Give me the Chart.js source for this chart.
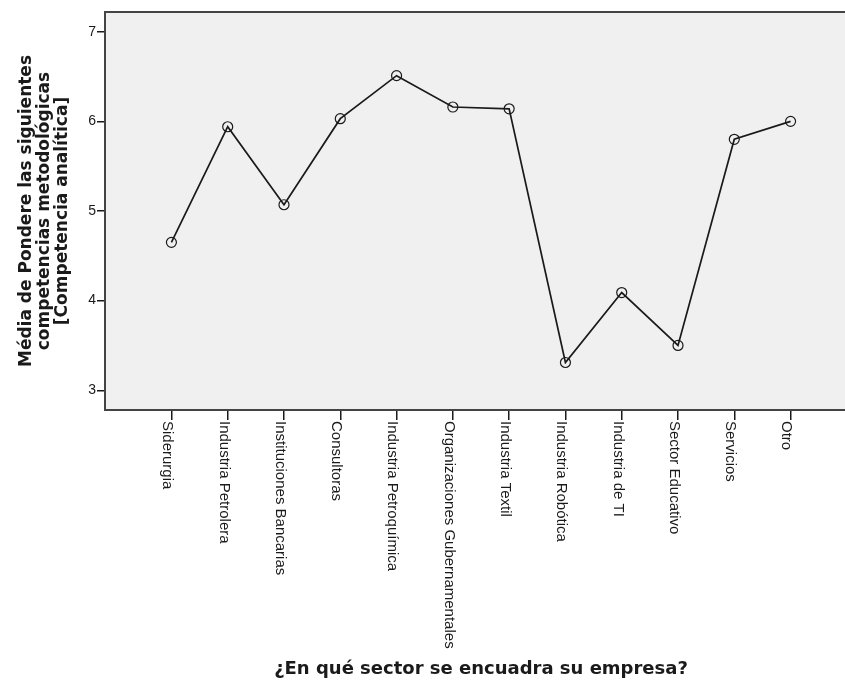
<!DOCTYPE html>
<html>
<head>
<meta charset="utf-8">
<script src="https://cdn.jsdelivr.net/npm/chart.js@4.4.1/dist/chart.umd.min.js"></script>
<style>
  html, body { margin: 0; padding: 0; background: #fff; overflow: hidden; }
  #wrap { width: 870px; height: 684px; }
</style>
</head>
<body>
<div id="wrap"><canvas id="chart"></canvas></div>
<script>
// datos
const sectores = [
    'Siderurgia',
    'Industria Petrolera',
    'Instituciones Bancarias',
    'Consultoras',
    'Industria Petroquímica',
    'Organizaciones Gubernamentales',
    'Industria Textil',
    'Industria Robótica',
    'Industria de TI',
    'Sector Educativo',
    'Servicios',
    'Otro'
];
const medias = [4.65, 5.94, 5.07, 6.03, 6.51, 6.16, 6.14, 3.31, 4.09, 3.50, 5.80, 6.00];
const yTicks = [3, 4, 5, 6, 7];
const yTitulo = ['Média de Pondere las siguientes', 'competencias metodológicas', '[Competencia analítica]'];
const xTitulo = '¿En qué sector se encuadra su empresa?';

const INK = '#1a1a1a';
const SANS = '"Liberation Sans", Arial, sans-serif';
const TITLE_FONT = '"DejaVu Sans", "Liberation Sans", sans-serif';

// fondo gris, marco y etiquetas giradas del eje x
const marco = {
    id: 'marco',
    beforeDraw(chart) {
        const { ctx, chartArea: a } = chart;
        ctx.save();
        ctx.fillStyle = '#f0f0f0';
        ctx.fillRect(a.left, a.top, a.right - a.left, a.bottom - a.top);
        ctx.restore();
    },
    afterDraw(chart) {
        const { ctx, chartArea: a } = chart;
        const x = chart.scales.x;
        ctx.save();
        ctx.strokeStyle = '#444';
        ctx.lineWidth = 2;
        ctx.strokeRect(a.left, a.top, a.right - a.left, a.bottom - a.top);

        ctx.fillStyle = INK;
        ctx.font = '15px ' + SANS;
        ctx.textAlign = 'left';
        ctx.textBaseline = 'middle';
        sectores.forEach((s, i) => {
            const px = x.getPixelForValue(i);
            ctx.save();
            ctx.translate(px, a.bottom + 11);
            ctx.rotate(Math.PI / 2);
            ctx.fillText(s, 0, 4);
            ctx.restore();
        });
        ctx.restore();
    }
};

new Chart(document.getElementById('chart'), {
    type: 'line',
    data: {
        datasets: [{
            data: medias.map((v, i) => ({ x: i, y: v })),
            borderColor: INK,
            borderWidth: 1.7,
            tension: 0,
            pointRadius: 5,
            pointBorderWidth: 1.2,
            pointBorderColor: INK,
            pointBackgroundColor: 'rgba(0,0,0,0)',
            fill: false
        }]
    },
    options: {
        responsive: true,
        maintainAspectRatio: false,
        animation: false,
        layout: { padding: { left: 0, top: 12, right: 13, bottom: 0 } },
        plugins: {
            legend: { display: false },
            tooltip: { enabled: false }
        },
        scales: {
            x: {
                type: 'linear',
                min: -1.18,
                max: 12.18,
                afterBuildTicks: scale => { scale.ticks = sectores.map((s, i) => ({ value: i })); },
                afterFit: scale => { scale.height = 274; },
                grid: { drawOnChartArea: false, drawTicks: true, tickLength: 10, color: INK, lineWidth: 1.5 },
                border: { display: false },
                ticks: { display: false },
                title: {
                    display: true,
                    text: xTitulo,
                    color: INK,
                    font: { family: TITLE_FONT, size: 18, weight: 'bold' },
                    padding: { top: 0, bottom: 4 }
                }
            },
            y: {
                min: 2.78,
                max: 7.22,
                afterBuildTicks: scale => { scale.ticks = yTicks.map(v => ({ value: v })); },
                afterFit: scale => { scale.width = 105; },
                grid: { drawOnChartArea: false, drawTicks: true, tickLength: 8, color: INK, lineWidth: 1.5 },
                border: { display: false },
                ticks: {
                    color: INK,
                    padding: 1,
                    font: { family: SANS, size: 14 }
                },
                title: {
                    display: true,
                    text: yTitulo,
                    color: INK,
                    font: { family: TITLE_FONT, size: 17, weight: 'bold', lineHeight: 1.06 },
                    padding: { top: 18, bottom: 0 }
                }
            }
        }
    },
    plugins: [marco]
});
</script>
</body>
</html>
